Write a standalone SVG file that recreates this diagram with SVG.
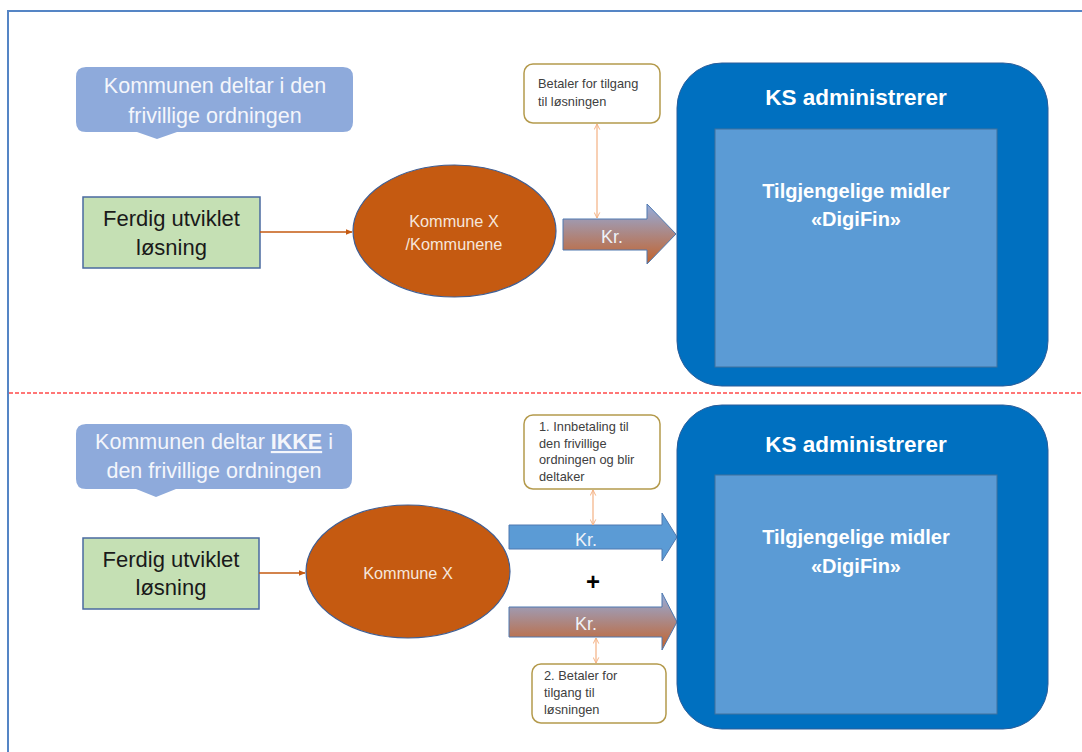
<svg xmlns="http://www.w3.org/2000/svg" width="1082" height="752" viewBox="0 0 1082 752">
<defs>
<style>
.t{font-family:"Liberation Sans",Arial,sans-serif}
.callout{fill:#8eaadb}
.callt{fill:#f4f6fb;font-size:21.5px;text-anchor:middle}
.green{fill:#c5e0b4;stroke:#4a6aa0;stroke-width:1.5}
.greent{fill:#1a1a1a;font-size:22px;text-anchor:middle}
.ell{fill:#c55a11;stroke:#3f5f95;stroke-width:1.2}
.ellt{fill:#f6e6dc;font-size:16.3px;text-anchor:middle}
.ks{fill:#0070c0;stroke:#2a5d9a;stroke-width:1}
.inner{fill:#5b9bd5;stroke:#41719c;stroke-width:1}
.kst{fill:#ffffff;font-weight:bold;text-anchor:middle}
.note{fill:#ffffff;stroke:#b49a4c;stroke-width:1.5}
.notet{fill:#404040;font-size:12.8px}
.kr{stroke:#4f79b0;stroke-width:1}
.krt{fill:#eef2f8;font-size:18px;text-anchor:middle}
.dbl{stroke:#f4b183;stroke-width:1.2;fill:none;marker-start:url(#open);marker-end:url(#open)}
.feed{stroke:#c55a11;stroke-width:1.6;fill:none;marker-end:url(#solid)}
</style>
<linearGradient id="grad" x1="0" y1="0" x2="0" y2="1">
<stop offset="0" stop-color="#94acdc"/>
<stop offset="1" stop-color="#c4622a"/>
</linearGradient>
<marker id="open" viewBox="0 0 10 10" refX="9" refY="5" markerWidth="7" markerHeight="7" orient="auto-start-reverse" markerUnits="userSpaceOnUse">
<path d="M1,1 L9,5 L1,9" fill="none" stroke="#f4b183" stroke-width="1.4"/>
</marker>
<marker id="solid" viewBox="0 0 10 10" refX="9" refY="5" markerWidth="7" markerHeight="7" orient="auto" markerUnits="userSpaceOnUse">
<path d="M0,1 L10,5 L0,9 Z" fill="#c55a11"/>
</marker>
</defs>
<rect x="0" y="0" width="1082" height="752" fill="#ffffff"/>
<rect x="8" y="11" width="1100" height="800" fill="none" stroke="#5585c5" stroke-width="2"/>
<line x1="9" y1="393" x2="1082" y2="393" stroke="#ff4a4a" stroke-width="1.5" stroke-dasharray="4 2"/>

<g id="callout-top">
<path class="callout" d="M86,67 H343 Q353,67 353,77 V122 Q353,132 343,132 H177 L157,139 L137,132 H86 Q76,132 76,122 V77 Q76,67 86,67 Z"/>
<text class="t callt" x="215" y="93">Kommunen deltar i den</text>
<text class="t callt" x="215" y="123">frivillige ordningen</text>
</g>

<g id="losning-top">
<rect class="green" x="83" y="197" width="177" height="71"/>
<text class="t greent" x="171.5" y="226">Ferdig utviklet</text>
<text class="t greent" x="171.5" y="255">løsning</text>
</g>

<g id="kommune-top">
<ellipse class="ell" cx="454.5" cy="231" rx="101.5" ry="66"/>
<text class="t ellt" x="454" y="227">Kommune X</text>
<text class="t ellt" x="454" y="250">/Kommunene</text>
</g>

<g id="note-top">
<rect class="note" x="524" y="64" width="136" height="59" rx="9"/>
<text class="t notet" x="538" y="88">Betaler for tilgang</text>
<text class="t notet" x="538" y="106">til løsningen</text>
</g>

<g id="kr-top">
<polygon class="kr" fill="url(#grad)" points="563,219 647,219 647,204 676,234 647,264 647,250 563,250"/>
<text class="t krt" x="612" y="243">Kr.</text>
</g>

<g id="ks-top">
<rect class="ks" x="677" y="63" width="371" height="323" rx="45"/>
<text class="t kst" x="856" y="105" font-size="22.5">KS administrerer</text>
<rect class="inner" x="715" y="129" width="282" height="238"/>
<text class="t kst" x="856" y="198" font-size="20">Tilgjengelige midler</text>
<text class="t kst" x="856" y="226" font-size="20">«DigiFin»</text>
</g>

<g id="callout-bottom">
<path class="callout" d="M86,424 H342 Q352,424 352,434 V479 Q352,489 342,489 H176 L156,497 L136,489 H86 Q76,489 76,479 V434 Q76,424 86,424 Z"/>
<text class="t callt" x="214" y="449">Kommunen deltar <tspan font-weight="bold" text-decoration="underline">IKKE</tspan> i</text>
<text class="t callt" x="214" y="478">den frivillige ordningen</text>
</g>

<g id="losning-bottom">
<rect class="green" x="83" y="538" width="176" height="71"/>
<text class="t greent" x="171" y="567">Ferdig utviklet</text>
<text class="t greent" x="171" y="595">løsning</text>
</g>

<g id="kommune-bottom">
<ellipse class="ell" cx="408" cy="571.5" rx="102" ry="66.5"/>
<text class="t ellt" x="408" y="579">Kommune X</text>
</g>

<g id="note-bottom-1">
<rect class="note" x="524" y="415" width="136" height="74" rx="9"/>
<text class="t notet" x="539" y="431" font-size="12.5">1. Innbetaling til</text>
<text class="t notet" x="539" y="447.5" font-size="12.5">den frivillige</text>
<text class="t notet" x="539" y="464" font-size="12.5">ordningen og blir</text>
<text class="t notet" x="539" y="481" font-size="12.5">deltaker</text>
</g>

<g id="kr-bottom-1">
<polygon class="kr" fill="#5b9bd5" points="509,525 662,525 662,513 677,537 662,561 662,549 509,549"/>
<text class="t krt" x="586" y="546">Kr.</text>
</g>

<g id="plus">
<text class="t" x="593" y="590" font-size="24" font-weight="bold" text-anchor="middle" fill="#000000">+</text>
</g>

<g id="kr-bottom-2">
<polygon class="kr" fill="url(#grad)" points="509,607 662,607 662,593 677,622 662,650 662,637 509,637"/>
<text class="t krt" x="586" y="630">Kr.</text>
</g>

<g id="note-bottom-2">
<rect class="note" x="532" y="664" width="134" height="59" rx="9"/>
<text class="t notet" x="544" y="680">2. Betaler for</text>
<text class="t notet" x="544" y="697">tilgang til</text>
<text class="t notet" x="544" y="714">løsningen</text>
</g>

<g id="ks-bottom">
<rect class="ks" x="677" y="405" width="371" height="324" rx="45"/>
<text class="t kst" x="856" y="452" font-size="22.5">KS administrerer</text>
<rect class="inner" x="715" y="475" width="282" height="239"/>
<text class="t kst" x="856" y="544" font-size="20">Tilgjengelige midler</text>
<text class="t kst" x="856" y="573" font-size="20">«DigiFin»</text>
</g>

<g id="connectors">
<line class="feed" x1="260" y1="232" x2="352" y2="232"/>
<line class="feed" x1="259" y1="573" x2="305" y2="573"/>
<line class="dbl" x1="597" y1="124" x2="597" y2="218"/>
<line class="dbl" x1="593" y1="490" x2="593" y2="525"/>
<line class="dbl" x1="596" y1="638" x2="596" y2="663"/>
</g>
</svg>
